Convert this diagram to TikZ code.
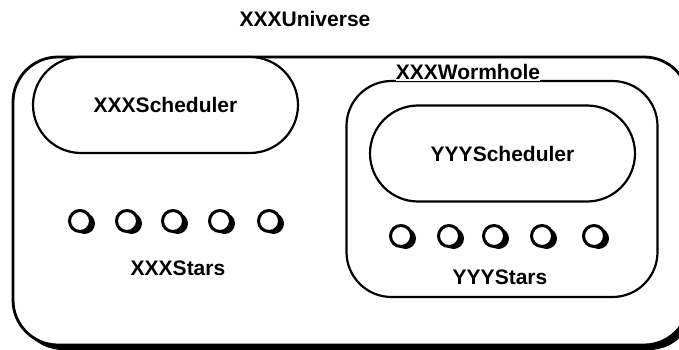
\documentclass[tikz,border=0pt]{standalone}
\usepackage{fontspec}
\setmainfont{Liberation Sans}
\usetikzlibrary{shadows}

\begin{document}
\begin{tikzpicture}[x=1pt,y=-1pt,
	lbl/.style={font=\fontsize{21}{25}\selectfont\bfseries, inner sep=0pt},
	region/.style={draw, line width=2.2pt, fill=white, minimum width=#1, rounded corners=45pt},
	sched/.style={draw, line width=2.2pt, fill=white, minimum width=265pt, minimum height=96pt, rounded corners=48pt, font=\fontsize{21}{25}\selectfont\bfseries},
	star/.style={circle, draw, line width=3pt, fill=white, minimum size=21pt, inner sep=0pt,
		drop shadow={shadow xshift=4.5pt, shadow yshift=-2.5pt, fill=black, opacity=1}}]
\useasboundingbox (0,0) rectangle (679,350);

	\node[lbl] (universelbl) at (305,19) {XXXUniverse};
\node[region=676pt, minimum height=288pt, line width=2.8pt,
	drop shadow={shadow xshift=5pt, shadow yshift=-5pt, fill=black, opacity=1}] (universe) at (351,201) {};

\node[sched] (xxxsched) at (165.5,105) {XXXScheduler};

\node[region=311pt, minimum height=216pt] (wormhole) at (502,189) {};
	\node[lbl, fill=white, inner ysep=1pt] (wormholelbl) at (468,72) {XXXWormhole};
\node[sched] (yyysched) at (502.5,153.5) {YYYScheduler};

% stars of the universe
\node[star] (xstar1) at (80,221) {};
\node[star] (xstar2) at (127,221) {};
\node[star] (xstar3) at (173,221) {};
\node[star] (xstar4) at (220,221) {};
\node[star] (xstar5) at (269,221) {};
	\node[lbl] (xstars) at (178,268) {XXXStars};

% stars of the wormhole
\node[star] (ystar1) at (401,236) {};
\node[star] (ystar2) at (449,236) {};
\node[star] (ystar3) at (494,236) {};
\node[star] (ystar4) at (542,236) {};
\node[star] (ystar5) at (594,236) {};
	\node[lbl] (ystars) at (500,277) {YYYStars};

\end{tikzpicture}
\end{document}
